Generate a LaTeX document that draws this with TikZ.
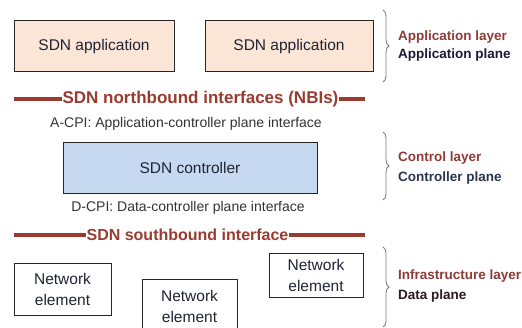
\documentclass[tikz,border=0pt]{standalone}
\usepackage{fontspec}
\setmainfont{Liberation Sans}
\usetikzlibrary{decorations.pathreplacing}
\definecolor{brick}{HTML}{9A3B30}
\definecolor{layerc}{HTML}{8E3B35}
\definecolor{appfill}{HTML}{FBE5D6}
\definecolor{ctlfill}{HTML}{C6D9F1}
\definecolor{boxtext}{HTML}{202434}
\definecolor{appplane}{HTML}{1A1A38}
\definecolor{ctlplane}{HTML}{2A3550}
\definecolor{dataplane}{HTML}{2E1A1A}
\definecolor{bracec}{HTML}{7A7A7A}
\begin{document}
\begin{tikzpicture}[x=1pt,y=-1pt,
  box/.style={draw=black!85, line width=0.9pt, inner sep=0pt, align=center,
    text=boxtext, font=\fontsize{15.5}{21}\selectfont},
  appbox/.style={box, fill=appfill, minimum height=51pt},
  ctlbox/.style={box, fill=ctlfill, minimum height=51pt},
  nebox/.style={box, fill=white},
  busline/.style={brick, line width=3.4pt},
  bustext/.style={text=brick, inner sep=0.3pt, font=\bfseries\fontsize{17}{20}\selectfont},
  ifctext/.style={text=black!80, inner sep=0pt, font=\fontsize{14}{17}\selectfont},
  layerbrace/.style={bracec, line width=0.8pt, decorate, decoration={brace, amplitude=6pt}},
  layertext/.style={anchor=west, inner sep=0pt, font=\bfseries\fontsize{13.5}{16}\selectfont}]
\useasboundingbox (0,0) rectangle (522,327);
\clip (0,0) rectangle (522,327);

% Application layer
\node[appbox, minimum width=160pt] (app1) at (94,46) {SDN application};
\node[appbox, minimum width=168pt] (app2) at (289,46) {SDN application};

% Northbound interface
\coordinate (nbiL) at (14,99);
\coordinate (nbiR) at (365,99);
\node[bustext] (nbi) at (200.5,99) {SDN northbound interfaces (NBIs)};
\draw[busline] (nbiL) -- (nbi.west);
\draw[busline] (nbi.east) -- (nbiR);

\node[ifctext] (acpi) at (186,124) {A-CPI: Application-controller plane interface};

% Controller
\node[ctlbox, minimum width=254pt] (ctl) at (190,167.5) {SDN controller};

\node[ifctext] (dcpi) at (188,208) {D-CPI: Data-controller plane interface};

% Southbound interface
\coordinate (sbiL) at (14,235);
\coordinate (sbiR) at (365,235);
\node[bustext, font=\bfseries\fontsize{16}{19}\selectfont] (sbi) at (187.5,235) {SDN southbound interface};
\draw[busline] (sbiL) -- (sbi.west);
\draw[busline] (sbi.east) -- (sbiR);

% Network elements
\node[nebox, minimum width=97pt, minimum height=52pt] (ne1) at (62.5,289) {Network\\element};
\node[nebox, minimum width=95pt, minimum height=54pt] (ne2) at (189.5,306) {Network\\element};
\node[nebox, minimum width=94pt, minimum height=44pt] (ne3) at (316,275) {Network\\element};

% Braces
\coordinate (b1t) at (383,10);
\coordinate (b1b) at (383,82);
\draw[layerbrace] (b1t) -- (b1b);
\coordinate (b2t) at (383,132);
\coordinate (b2b) at (383,200);
\draw[layerbrace] (b2t) -- (b2b);
\coordinate (b3t) at (383,247);
\coordinate (b3b) at (383,327);
\draw[layerbrace] (b3t) -- (b3b);

% Layer labels
\node[layertext, text=layerc] (l1a) at (398,37) {Application layer};
\node[layertext, text=appplane] (l1b) at (398,55) {Application plane};
\node[layertext, text=layerc] (l2a) at (398,158) {Control layer};
\node[layertext, text=ctlplane] (l2b) at (398,178) {Controller plane};
\node[layertext, text=layerc] (l3a) at (398,276) {Infrastructure layer};
\node[layertext, text=dataplane] (l3b) at (398,296) {Data plane};
\end{tikzpicture}
\end{document}
